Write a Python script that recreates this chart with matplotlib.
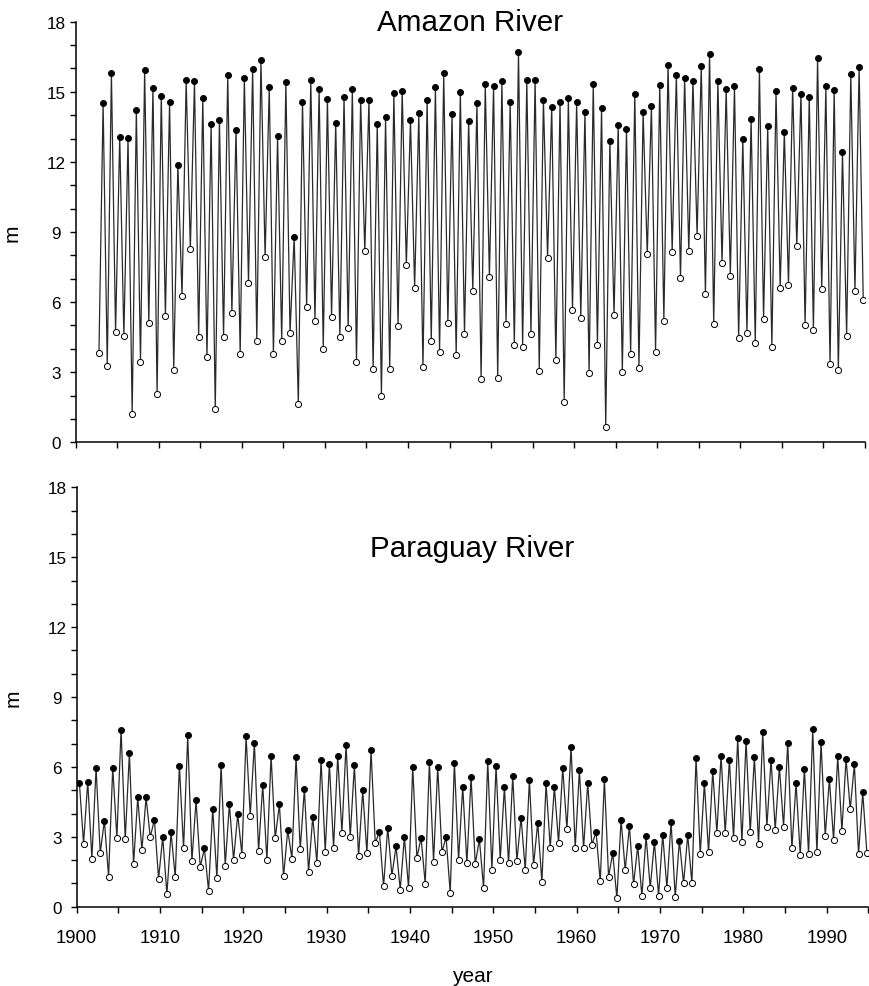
import numpy as np
import matplotlib.pyplot as plt
from matplotlib.ticker import MultipleLocator

plt.rcParams['font.family'] = ['Liberation Sans', 'DejaVu Sans']

# Amazon River: yearly low (open) and high (filled) stages, m
amazon_min = [3.81, 3.27, 4.71, 4.54, 1.21, 3.45, 5.11, 2.05, 5.41, 3.10,
              6.26, 8.26, 4.52, 3.64, 1.44, 4.51, 5.52, 3.78, 6.82, 4.34,
              7.92, 3.77, 4.32, 4.69, 1.63, 5.79, 5.21, 4.01, 5.38, 4.49,
              4.88, 3.44, 8.17, 3.15, 1.98, 3.14, 4.98, 7.57, 6.59, 3.21,
              4.35, 3.85, 5.12, 3.72, 4.64, 6.49, 2.70, 7.09, 2.75, 5.06,
              4.15, 4.08, 4.64, 3.07, 7.90, 3.52, 1.74, 5.68, 5.33, 2.97,
              4.16, 0.67, 5.43, 3.02, 3.78, 3.19, 8.04, 3.87, 5.21, 8.14,
              7.03, 8.17, 8.84, 6.33, 5.06, 7.67, 7.13, 4.45, 4.69, 4.26,
              5.29, 4.09, 6.59, 6.75, 8.40, 5.01, 4.82, 6.56, 3.34, 3.10,
              4.56, 6.46, 6.08]
amazon_max = [14.52, 15.79, 13.08, 13.02, 14.21, 15.93, 15.18, 14.82, 14.58, 11.88,
              15.50, 15.45, 14.73, 13.62, 13.78, 15.73, 13.36, 15.58, 15.99, 16.36,
              15.20, 13.09, 15.43, 8.79, 14.56, 15.49, 15.13, 14.69, 13.66,
              14.78, 15.12, 14.65, 14.66, 13.64, 13.91, 14.93, 15.05, 13.78, 14.08,
              14.63, 15.19, 15.79, 14.03, 14.99, 13.75, 14.51, 15.32, 15.25, 15.46,
              14.58, 16.69, 15.49, 15.52, 14.66, 14.33, 14.58, 14.72, 14.55, 14.13,
              15.33, 14.31, 12.91, 13.59, 13.42, 14.92, 14.13, 14.41, 15.30, 16.13,
              15.70, 15.58, 15.48, 16.12, 16.62, 15.45, 15.10, 15.23, 12.99, 13.85,
              15.97, 13.52, 15.03, 13.28, 15.15, 14.92, 14.79, 16.43, 15.23, 15.08,
              12.42, 15.76, 16.05]

# Paraguay River
paraguay_max = [5.31, 5.37, 5.96, 3.70, 5.96, 7.60, 6.59, 4.69, 4.69, 3.74,
                2.99, 3.19, 6.06, 7.36, 4.57, 2.50, 4.21, 6.07, 4.41, 3.97,
                7.31, 7.03, 5.23, 6.49, 4.40, 3.29, 6.43, 5.06, 3.86, 6.29,
                6.14, 6.49, 6.96, 6.07, 4.99, 6.71, 3.21, 3.40, 2.59, 2.99,
                6.00, 2.96, 6.21, 6.00, 2.99, 6.19, 5.16, 5.57, 2.89, 6.27,
                6.04, 5.14, 5.61, 3.83, 5.43, 3.61, 5.29, 5.14, 5.97, 6.87,
                5.87, 5.31, 3.21, 5.47, 2.30, 3.73, 3.46, 2.61, 3.03, 2.79,
                3.10, 3.63, 2.84, 3.09, 6.39, 5.31, 5.83, 6.49, 6.31, 7.24,
                7.13, 6.43, 7.49, 6.31, 6.00, 7.04, 5.31, 5.93, 7.61, 7.07,
                5.47, 6.46, 6.34, 6.11, 4.91]
paraguay_min = [2.71, 2.07, 2.31, 1.29, 2.97, 2.89, 1.83, 2.44, 2.99, 1.20,
                0.54, 1.26, 2.51, 1.96, 1.70, 0.69, 1.23, 1.77, 2.01, 2.24,
                3.91, 2.39, 1.99, 2.93, 1.31, 2.07, 2.46, 1.49, 1.89, 2.37,
                2.54, 3.17, 3.00, 2.16, 2.31, 2.73, 0.87, 1.34, 0.73, 0.80,
                2.10, 0.99, 1.94, 2.34, 0.59, 2.01, 1.86, 1.83, 0.81, 1.59,
                2.01, 1.86, 1.97, 1.59, 1.80, 1.06, 2.54, 2.74, 3.33, 2.51,
                2.50, 2.66, 1.09, 1.29, 0.37, 1.57, 0.96, 0.46, 0.80, 0.47,
                0.81, 0.41, 1.00, 1.00, 2.26, 2.33, 3.16, 3.16, 2.94, 2.76,
                3.19, 2.70, 3.44, 3.31, 3.44, 2.50, 2.20, 2.27, 2.33, 3.03,
                2.87, 3.26, 4.19, 2.27, 2.30]

amazon_min_t = np.arange(1902, 1995) + 0.8
amazon_max_t = np.arange(1903, 1995) + 0.3
paraguay_max_t = np.arange(1900, 1995) + 0.32
paraguay_min_t = np.arange(1900, 1995) + 0.82


def interleave(t1, v1, t2, v2):
    t = np.concatenate([t1, t2])
    v = np.concatenate([v1, v2])
    order = np.argsort(t)
    return t[order], v[order]


def draw_panel(ax, t_max, v_max, t_min, v_min):
    t, v = interleave(t_max, v_max, t_min, v_min)
    ax.plot(t, v, color='#2a2a2a', lw=0.9, zorder=1)
    ax.plot(t_max, v_max, 'o', ms=4.4, mfc='black', mec='black', mew=0.6, zorder=3)
    ax.plot(t_min, v_min, 'o', ms=4.4, mfc='white', mec='black', mew=0.7, zorder=3)

    ax.set_xlim(1900, 1995)
    ax.set_ylim(0, 18)
    ax.xaxis.set_major_locator(MultipleLocator(10))
    ax.xaxis.set_minor_locator(MultipleLocator(5))
    ax.yaxis.set_major_locator(MultipleLocator(3))
    ax.yaxis.set_minor_locator(MultipleLocator(1))
    ax.tick_params(which='both', direction='out', length=4.2, width=1)
    ax.tick_params(axis='y', labelsize=12.3, pad=10)
    for lab in ax.get_yticklabels():
        lab.set_horizontalalignment('center')
    for s in ['top', 'right']:
        ax.spines[s].set_visible(False)
    for s in ['left', 'bottom']:
        ax.spines[s].set_linewidth(1.1)
    ax.set_ylabel('m', fontsize=15)
    ax.yaxis.set_label_coords(-0.068, 0.5)


fig = plt.figure(figsize=(8.69, 9.87), dpi=100)
ax1 = fig.add_axes([0.0871, 0.5509, 0.9082, 0.4261])
ax2 = fig.add_axes([0.0883, 0.0803, 0.9110, 0.4249])

draw_panel(ax1, amazon_max_t, amazon_max, amazon_min_t, amazon_min)
ax1.tick_params(axis='x', labelbottom=False)
ax1.text(1947.5, 18.0, 'Amazon River', fontsize=21.3, ha='center', va='center')

draw_panel(ax2, paraguay_max_t, paraguay_max, paraguay_min_t, paraguay_min)
ax2.tick_params(axis='x', labelsize=13.3, pad=12)
ax2.set_xlabel('year', fontsize=15, labelpad=14)
ax2.text(1947.5, 15.4, 'Paraguay River', fontsize=21.3, ha='center', va='center')

fig.savefig('out.png', dpi=100)
